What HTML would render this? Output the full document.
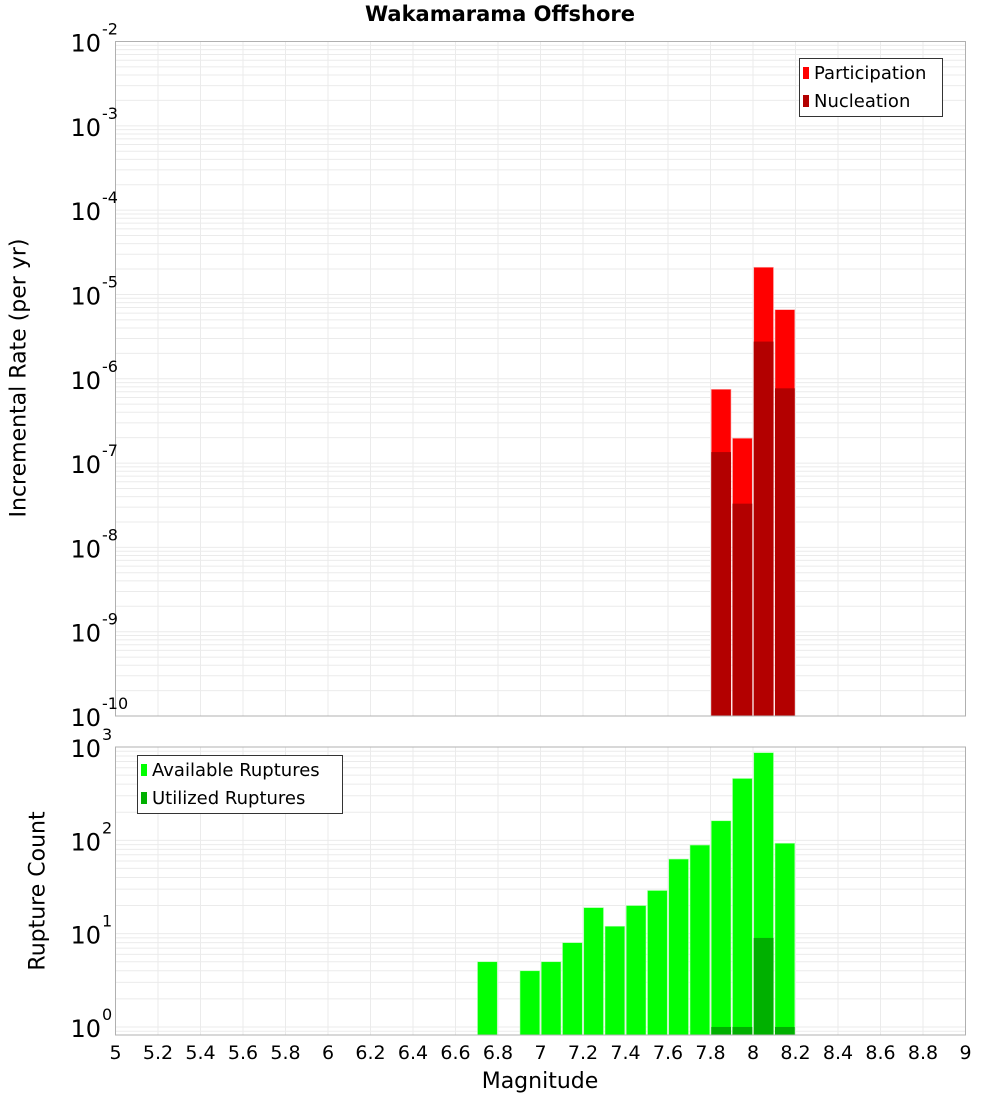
<!DOCTYPE html>
<html><head><meta charset="utf-8">
<style>
body{margin:0;background:#fff;}
svg{display:block;font-family:"DejaVu Sans","Liberation Sans",sans-serif;}
</style></head>
<body>
<svg id="chart" width="1000" height="1100" xmlns="http://www.w3.org/2000/svg"></svg>
<script>
const binCenters = [6.75,6.85,6.95,7.05,7.15,7.25,7.35,7.45,7.55,7.65,7.75,7.85,7.95,8.05,8.15];
const availableCounts = [5,0,4,5,8,19,12,20,29,63,89,162,460,870,93];
const utilizedCounts = [0,0,0,0,0,0,0,0,0,0,0,1,1,9,1];
const rateMags = [7.85,7.95,8.05,8.15];
const participationRates = [7.5e-7,1.97e-7,2.1e-5,6.6e-6];
const nucleationRates = [1.35e-7,3.3e-8,2.76e-6,7.7e-7];
const xTicks = [5,5.2,5.4,5.6,5.8,6,6.2,6.4,6.6,6.8,7,7.2,7.4,7.6,7.8,8,8.2,8.4,8.6,8.8,9];
const topDecades = [-2,-3,-4,-5,-6,-7,-8,-9,-10];
const botDecades = [0,1,2,3];

const NS="http://www.w3.org/2000/svg";
const svg=document.getElementById('chart');
function el(tag,attrs,parent){const e=document.createElementNS(NS,tag);for(const k in attrs)e.setAttribute(k,attrs[k]);(parent||svg).appendChild(e);return e;}
const X0=115.5,X1=965.5;
const xs=m=>X0+(m-5)/4*(X1-X0);
const T0=41.5,T1=716;
const yTop=v=>T1-(Math.log10(v)+10)/8*(T1-T0);
const B0=747,B1=1035, bMin=Math.log10(0.82), bMax=3;
const yBot=v=>B1-(Math.log10(v)-bMin)/(bMax-bMin)*(B1-B0);

function grid(yf,lo,hi,top,bot,name){
  const g=el('g',{});
  
  
  for(let d=lo;d<hi;d++)for(let k=1;k<10;k++){const y=yf(k*Math.pow(10,d));if(y<top-0.5||y>bot+0.5)continue;
    el('line',{x1:X0,x2:X1,y1:y,y2:y,stroke:'#ebebeb','stroke-width':1},g);}
  xTicks.forEach(t=>{const x=xs(t);el('line',{x1:x,x2:x,y1:top,y2:bot,stroke:'#ebebeb','stroke-width':1},g);});
}
grid(yTop,-10,-1,T0,T1,'top-grid');
grid(yBot,-1,4,B0,B1,'bottom-grid');

const bw=(xs(5.1)-xs(5))-1.5;
// top bars
rateMags.forEach((m,i)=>{
  const x=xs(m)-bw/2;
  let r=el('rect',{x:x,y:yTop(participationRates[i]),width:bw,height:T1-yTop(participationRates[i]),fill:'#ff0000',stroke:'#ffb0b0','stroke-width':0.6});
  
  
  r=el('rect',{x:x,y:yTop(nucleationRates[i]),width:bw,height:T1-yTop(nucleationRates[i]),fill:'#b30000'});
  
  
});
binCenters.forEach((m,i)=>{
  const x=xs(m)-bw/2;
  if(availableCounts[i]>0){
    const r=el('rect',{x:x,y:yBot(availableCounts[i]),width:bw,height:B1-yBot(availableCounts[i]),fill:'#00ff00',stroke:'#b0ffb0','stroke-width':0.6});
    
    
  }
  if(utilizedCounts[i]>0){
    const r=el('rect',{x:x,y:yBot(utilizedCounts[i]),width:bw,height:B1-yBot(utilizedCounts[i]),fill:'#00b000'});
    
    
  }
});
// frames
el('rect',{x:X0,y:T0,width:X1-X0,height:T1-T0,fill:'none',stroke:'#b0b0b0','stroke-width':1});
el('rect',{x:X0,y:B0,width:X1-X0,height:B1-B0,fill:'none',stroke:'#b0b0b0','stroke-width':1});

function decLabel(y,d,name){
  const t=el('text',{x:101,y:y+10,'text-anchor':'end','font-size':24,fill:'#000'});
  t.textContent='10';
  
  
  const s=el('text',{x:102,y:y-7,'font-size':16,fill:'#000'});
  s.textContent=String(d);
  
  
}
topDecades.forEach(d=>decLabel(yTop(Math.pow(10,d)),d,'top-y-tick'));
botDecades.forEach(d=>decLabel(yBot(Math.pow(10,d)),d,'bottom-y-tick'));
xTicks.forEach(t=>{
  const tx=el('text',{x:xs(t),y:1059,'text-anchor':'middle','font-size':19,fill:'#000'});
  tx.textContent=String(+t.toFixed(1));
  
  
});
</script>
<svg width="0" height="0"></svg>
<div style="position:absolute;left:0;top:0;width:1000px;height:1100px;pointer-events:none;font-family:'DejaVu Sans','Liberation Sans',sans-serif;">
  <div style="position:absolute;left:0;width:1000px;top:2px;text-align:center;font-weight:bold;font-size:21px;">Wakamarama Offshore</div>
  <div style="position:absolute;left:19px;top:378px;width:0;height:0;"><div style="position:absolute;transform:translate(-50%,-50%) rotate(-90deg);white-space:nowrap;font-size:22px;">Incremental Rate (per yr)</div></div>
  <div style="position:absolute;left:38px;top:891px;width:0;height:0;"><div style="position:absolute;transform:translate(-50%,-50%) rotate(-90deg);white-space:nowrap;font-size:22px;">Rupture Count</div></div>
  <div style="position:absolute;left:440px;width:200px;top:1069px;text-align:center;font-size:22px;">Magnitude</div>
  <div style="position:absolute;left:799px;top:58px;width:142px;height:57px;border:1.5px solid #333;background:#fff;font-size:18px;">
    <div style="position:absolute;left:3px;top:4px;white-space:nowrap;"><span style="display:inline-block;width:6px;height:12px;background:#ff0000;margin-right:5px;"></span>Participation</div>
    <div style="position:absolute;left:3px;top:32px;white-space:nowrap;"><span style="display:inline-block;width:6px;height:12px;background:#b30000;margin-right:5px;"></span>Nucleation</div>
  </div>
  <div style="position:absolute;left:137px;top:755px;width:204px;height:57px;border:1.5px solid #333;background:#fff;font-size:18px;">
    <div style="position:absolute;left:3px;top:4px;white-space:nowrap;"><span style="display:inline-block;width:6px;height:12px;background:#00ff00;margin-right:5px;"></span>Available Ruptures</div>
    <div style="position:absolute;left:3px;top:32px;white-space:nowrap;"><span style="display:inline-block;width:6px;height:12px;background:#00b000;margin-right:5px;"></span>Utilized Ruptures</div>
  </div>
</div>
</body></html>
